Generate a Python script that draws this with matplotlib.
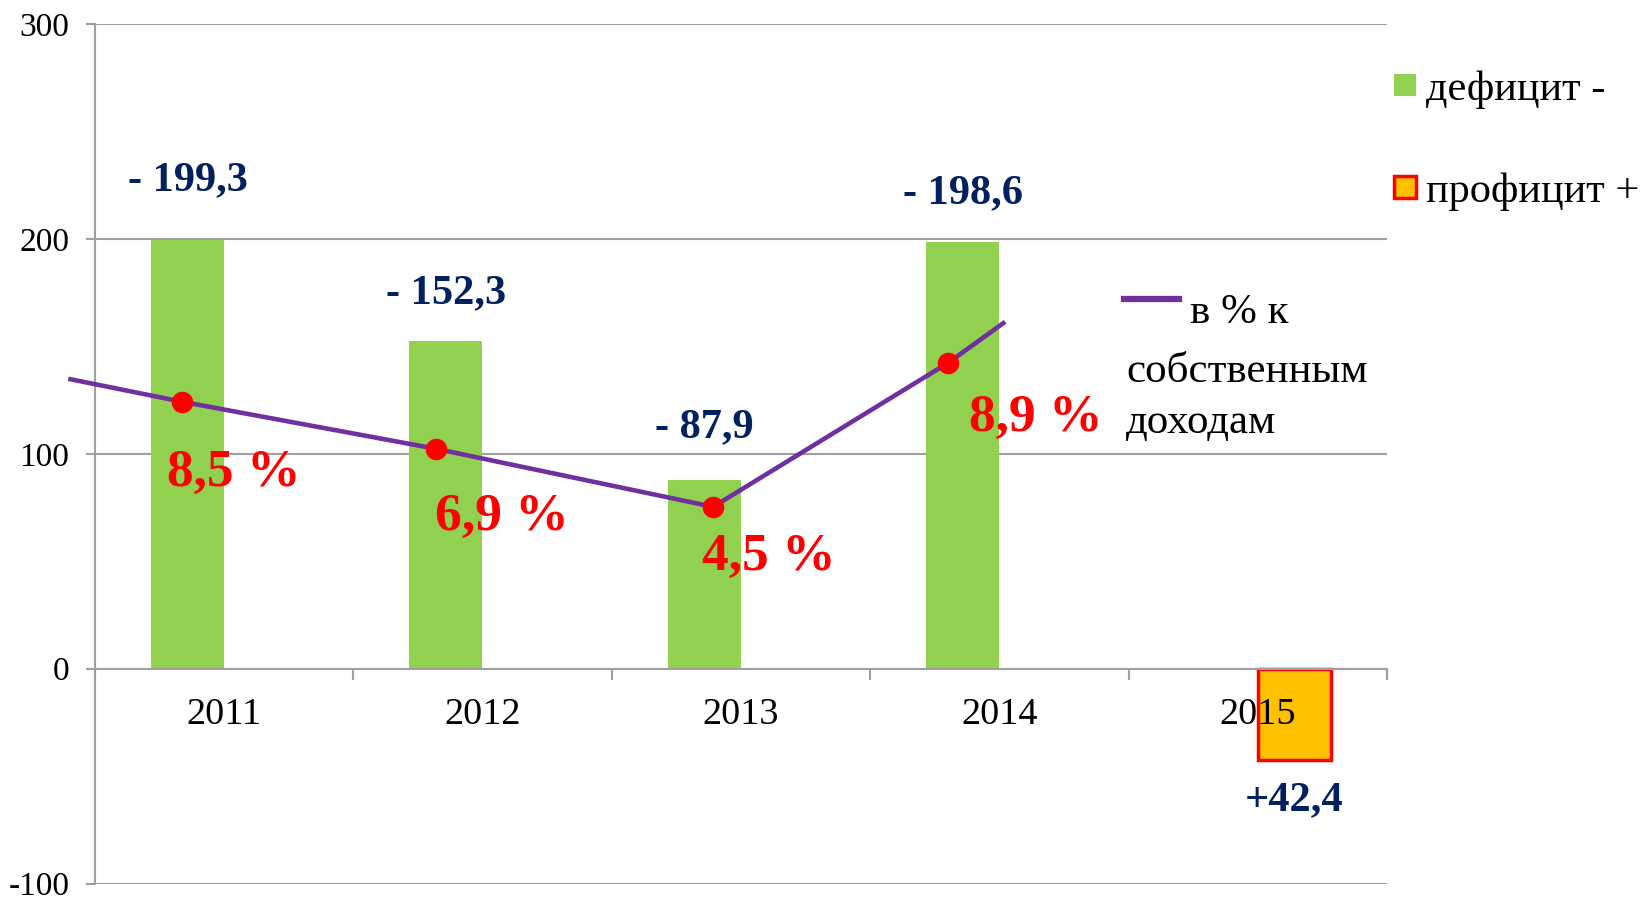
import numpy as np
import matplotlib
matplotlib.use("Agg")
import matplotlib.pyplot as plt
from matplotlib.patches import Rectangle
from matplotlib.lines import Line2D

plt.rcParams["font.family"] = ["Liberation Serif", "DejaVu Serif"]

years = ["2011", "2012", "2013", "2014", "2015"]
deficit = [199.3, 152.3, 87.9, 198.6, 0]
surplus = [0, 0, 0, 0, -42.4]
deficit_labels = ["- 199,3", "- 152,3", "- 87,9", "- 198,6"]
surplus_label = "+42,4"
pct_labels = ["8,5 %", "6,9 %", "4,5 %", "8,9 %"]

# purple line as drawn on the slide (category units, chart units), with its loose ends
line_x = [-0.604, -0.163, 0.820, 1.892, 2.801, 3.022]
line_y = [134.9, 124.2, 102.3, 75.3, 142.3, 161.4]

green = "#92D050"
orange = "#FFC000"
navy = "#002060"
purple = "#7030A0"
red = "#FF0000"
grid = "#A0A0A0"

fig = plt.figure(figsize=(16.45, 8.99), dpi=100)
ax = fig.add_axes([0.0578, 0.0172, 0.7854, 0.9561])

x = np.arange(len(years))
w = 0.2825
off = 0.142

ax.bar(x - off, deficit, w, color=green, zorder=2)
sx = [x[i] + off for i in range(len(years)) if surplus[i] != 0]
sv = [v for v in surplus if v != 0]
ax.bar(sx, sv, w, color=orange, edgecolor=red, linewidth=2.5, zorder=2)

for yv in [-100, 100, 200, 300]:
    ax.axhline(yv, color=grid, lw=1.5, zorder=0)

# value labels
lab_off = [43, 35, 38, 35]
for i, lab in enumerate(deficit_labels):
    ax.annotate(lab, (x[i] - off, deficit[i]), xytext=(0, lab_off[i]), textcoords="offset points",
                ha="center", va="center", fontsize=30.5, fontweight="bold", color=navy, zorder=5)
ax.annotate(surplus_label, (sx[0], sv[0]), xytext=(0, -29), textcoords="offset points",
            ha="center", va="center", fontsize=30.5, fontweight="bold", color=navy, zorder=5)

# percent line
ax.plot(line_x, line_y, color=purple, lw=3.3, zorder=3, clip_on=False, solid_capstyle="butt")
ax.plot(line_x[1:5], line_y[1:5], "o", color=red, ms=14.5, zorder=4, clip_on=False)
pct_off = [(37, -51), (47, -49), (40, -36), (63, -40)]
for i, lab in enumerate(pct_labels):
    ax.annotate(lab, (line_x[i + 1], line_y[i + 1]), xytext=pct_off[i], textcoords="offset points",
                ha="center", va="center", fontsize=38.5, fontweight="bold", color=red, zorder=5)

ax.set_xlim(-0.5, 4.5)
ax.set_ylim(-100, 300)
ax.set_yticks([-100, 0, 100, 200, 300])
ax.set_yticklabels(["-100", "0", "100", "200", "300"])
ax.set_axisbelow(False)

for s in ["top", "right"]:
    ax.spines[s].set_visible(False)
ax.spines["bottom"].set_position(("data", 0))
ax.spines["bottom"].set_color(grid)
ax.spines["bottom"].set_linewidth(1.5)
ax.spines["left"].set_color(grid)
ax.spines["left"].set_linewidth(1.5)

ax.set_xticks(np.arange(-0.5, 5.0, 1.0))
ax.set_xticklabels([])
ax.set_xticks(x, minor=True)
ax.set_xticklabels(years, minor=True)
ax.tick_params(axis="x", which="major", direction="out", length=8, width=1.5, color=grid)
ax.tick_params(axis="x", which="minor", length=0, pad=21, labelsize=27.5)
ax.tick_params(axis="y", direction="out", length=6.5, width=1.5, color=grid, pad=12, labelsize=24)

# legend drawn by hand
fig.patches.append(Rectangle((0.8474, 0.8932), 0.01337, 0.0245, transform=fig.transFigure,
                             facecolor=green, edgecolor="none"))
fig.patches.append(Rectangle((0.8474, 0.7798), 0.01337, 0.0245, transform=fig.transFigure,
                             facecolor=orange, edgecolor=red, linewidth=2.5))
fig.text(0.8669, 0.8888, "дефицит -", fontsize=30.5, va="baseline", ha="left")
fig.text(0.8669, 0.7753, "профицит +", fontsize=30.5, va="baseline", ha="left")

fig.lines.append(Line2D([0.6833, 0.7167], [0.6674, 0.6674], transform=fig.transFigure,
                        color=purple, lw=4.5))
fig.text(0.7234, 0.6407, "в % к", fontsize=31, va="baseline", ha="left")
fig.text(0.6845, 0.5751, "собственным", fontsize=31, va="baseline", ha="left")
fig.text(0.6845, 0.5180, "доходам", fontsize=31, va="baseline", ha="left")

fig.savefig("out.png", dpi=100)
